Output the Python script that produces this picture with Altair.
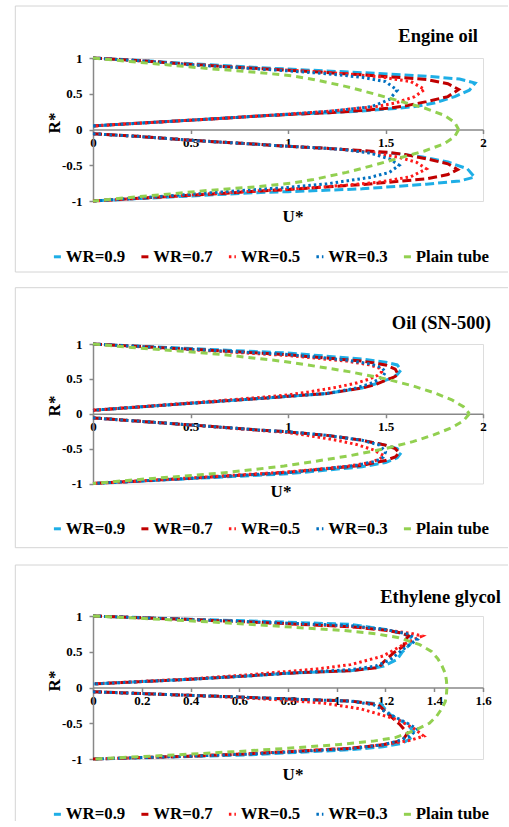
import altair as alt
import pandas as pd

SERIES = ["WR=0.9", "WR=0.7", "WR=0.5", "WR=0.3", "Plain tube"]
COLORS = ["#1EAEE6", "#C00000", "#FF1A1A", "#0070C0", "#92D050"]
DASHES = [[9, 4], [9, 4], [2.5, 3], [2.5, 3], [7, 5]]
WIDTHS = [3, 3, 2.6, 2.6, 2.5]
FONT = "Liberation Serif"

# ---------------- Engine oil ----------------
eo_09_up_u = [0, 0.25, 0.5, 0.86, 1.0, 1.38, 1.71, 1.88, 1.96, 1.93, 1.855, 1.75, 1.65, 1.55, 1.38, 1.21, 1.0, 0.86, 0.5, 0.25, 0]
eo_09_up_r = [1, 0.965, 0.92, 0.865, 0.845, 0.795, 0.745, 0.705, 0.65, 0.55, 0.46, 0.37, 0.32, 0.295, 0.26, 0.235, 0.21, 0.19, 0.13, 0.09, 0.05]
eo_09_lo_u = [0, 0.25, 0.5, 0.86, 1.0, 1.21, 1.38, 1.55, 1.69, 1.82, 1.92, 1.957, 1.88, 1.71, 1.38, 1.0, 0.86, 0.5, 0.25, 0]
eo_09_lo_r = [-0.06, -0.1, -0.15, -0.21, -0.235, -0.265, -0.3, -0.335, -0.385, -0.455, -0.55, -0.665, -0.72, -0.765, -0.83, -0.87, -0.88, -0.93, -0.965, -1]
eo_07_up_u = [0, 0.25, 0.5, 0.86, 1.0, 1.38, 1.71, 1.82, 1.875, 1.82, 1.71, 1.6, 1.52, 1.38, 1.21, 1.0, 0.86, 0.5, 0.25, 0]
eo_07_up_r = [1, 0.96, 0.91, 0.85, 0.83, 0.765, 0.7, 0.64, 0.56, 0.46, 0.39, 0.33, 0.3, 0.265, 0.235, 0.21, 0.19, 0.13, 0.09, 0.05]
eo_07_lo_u = [0, 0.25, 0.5, 0.86, 1.0, 1.21, 1.38, 1.52, 1.6, 1.71, 1.82, 1.87, 1.82, 1.71, 1.38, 1.0, 0.86, 0.5, 0.25, 0]
eo_07_lo_r = [-0.06, -0.1, -0.15, -0.21, -0.235, -0.265, -0.295, -0.32, -0.35, -0.41, -0.48, -0.56, -0.63, -0.69, -0.77, -0.84, -0.86, -0.92, -0.96, -1]
eo_05_up_u = [0, 0.25, 0.5, 0.86, 1.0, 1.2, 1.46, 1.63, 1.70, 1.65, 1.55, 1.45, 1.3, 1.21, 1.0, 0.86, 0.5, 0.25, 0]
eo_05_up_r = [1, 0.96, 0.91, 0.85, 0.83, 0.8, 0.74, 0.67, 0.56, 0.46, 0.37, 0.32, 0.28, 0.255, 0.215, 0.19, 0.13, 0.09, 0.05]
eo_05_lo_u = [0, 0.25, 0.5, 0.86, 1.0, 1.21, 1.3, 1.45, 1.57, 1.66, 1.71, 1.63, 1.46, 1.2, 1.0, 0.86, 0.5, 0.25, 0]
eo_05_lo_r = [-0.06, -0.1, -0.15, -0.21, -0.235, -0.265, -0.285, -0.33, -0.39, -0.46, -0.55, -0.66, -0.74, -0.8, -0.835, -0.855, -0.915, -0.96, -1]
eo_03_up_u = [0, 0.25, 0.5, 0.86, 1.0, 1.2, 1.38, 1.5, 1.56, 1.52, 1.43, 1.3, 1.21, 1.0, 0.86, 0.5, 0.25, 0]
eo_03_up_r = [1, 0.96, 0.905, 0.845, 0.82, 0.78, 0.73, 0.67, 0.55, 0.42, 0.32, 0.28, 0.255, 0.215, 0.19, 0.13, 0.09, 0.05]
eo_03_lo_u = [0, 0.25, 0.5, 0.86, 1.0, 1.21, 1.3, 1.42, 1.52, 1.57, 1.52, 1.42, 1.2, 1.0, 0.86, 0.5, 0.25, 0]
eo_03_lo_r = [-0.06, -0.1, -0.15, -0.21, -0.235, -0.265, -0.285, -0.33, -0.41, -0.5, -0.6, -0.67, -0.76, -0.81, -0.835, -0.905, -0.955, -1]
eo_pt_up_u = [0, 0.19, 0.4, 0.6, 0.84, 1.02, 1.13, 1.3, 1.44, 1.57, 1.7, 1.8, 1.855, 1.875]
eo_pt_up_r = [1, 0.95, 0.9, 0.85, 0.8, 0.75, 0.7, 0.6, 0.5, 0.4, 0.3, 0.2, 0.1, 0]
eo_pt_lo_u = [1.875, 1.855, 1.8, 1.7, 1.57, 1.44, 1.3, 1.13, 1.02, 0.84, 0.6, 0.4, 0.19, 0]
eo_pt_lo_r = [0, -0.1, -0.2, -0.3, -0.4, -0.5, -0.6, -0.7, -0.75, -0.8, -0.85, -0.9, -0.95, -1]

# ---------------- Oil (SN-500) ----------------
sn_09_up_u = [0, 0.5, 1.0, 1.38, 1.5, 1.56, 1.58, 1.56, 1.52, 1.45, 1.38, 1.2, 1.0, 0.86, 0.5, 0]
sn_09_up_r = [1, 0.935, 0.87, 0.785, 0.74, 0.7, 0.63, 0.56, 0.5, 0.43, 0.37, 0.29, 0.25, 0.22, 0.15, 0.05]
sn_09_lo_u = [0, 0.5, 0.86, 1.0, 1.2, 1.38, 1.5, 1.56, 1.58, 1.56, 1.5, 1.38, 1.0, 0.5, 0]
sn_09_lo_r = [-0.06, -0.16, -0.235, -0.26, -0.31, -0.38, -0.45, -0.5, -0.56, -0.63, -0.7, -0.76, -0.86, -0.93, -1]
sn_07_up_u = [0, 0.5, 1.0, 1.38, 1.5, 1.55, 1.565, 1.54, 1.5, 1.45, 1.38, 1.2, 1.0, 0.86, 0.5, 0]
sn_07_up_r = [1, 0.925, 0.845, 0.755, 0.7, 0.64, 0.56, 0.52, 0.48, 0.42, 0.37, 0.29, 0.25, 0.22, 0.15, 0.05]
sn_07_lo_u = [0, 0.5, 0.86, 1.0, 1.2, 1.38, 1.5, 1.55, 1.57, 1.55, 1.5, 1.38, 1.0, 0.5, 0]
sn_07_lo_r = [-0.06, -0.16, -0.235, -0.26, -0.31, -0.38, -0.45, -0.5, -0.56, -0.62, -0.67, -0.74, -0.84, -0.925, -1]
sn_05_up_u = [0, 0.5, 1.0, 1.3, 1.42, 1.47, 1.48, 1.46, 1.42, 1.35, 1.25, 1.1, 1.0, 0.86, 0.5, 0]
sn_05_up_r = [1, 0.92, 0.835, 0.755, 0.7, 0.65, 0.6, 0.55, 0.5, 0.44, 0.38, 0.31, 0.27, 0.235, 0.155, 0.05]
sn_05_lo_u = [0, 0.5, 0.86, 1.0, 1.1, 1.25, 1.35, 1.44, 1.49, 1.47, 1.42, 1.3, 1.0, 0.5, 0]
sn_05_lo_r = [-0.06, -0.16, -0.24, -0.27, -0.31, -0.38, -0.44, -0.52, -0.6, -0.65, -0.7, -0.755, -0.835, -0.92, -1]
sn_03_up_u = [0, 0.5, 1.0, 1.3, 1.43, 1.48, 1.5, 1.49, 1.47, 1.42, 1.35, 1.2, 1.0, 0.86, 0.5, 0]
sn_03_up_r = [1, 0.925, 0.85, 0.77, 0.71, 0.66, 0.6, 0.55, 0.5, 0.43, 0.37, 0.29, 0.25, 0.22, 0.15, 0.05]
sn_03_lo_u = [0, 0.5, 0.86, 1.0, 1.2, 1.38, 1.47, 1.5, 1.49, 1.45, 1.35, 1.0, 0.5, 0]
sn_03_lo_r = [-0.06, -0.16, -0.235, -0.26, -0.31, -0.38, -0.45, -0.55, -0.62, -0.68, -0.74, -0.845, -0.925, -1]
sn_pt_up_u = [0, 0.2, 0.44, 0.66, 0.82, 0.98, 1.1, 1.32, 1.5, 1.64, 1.75, 1.84, 1.9, 1.93]
sn_pt_up_r = [1, 0.95, 0.9, 0.85, 0.8, 0.75, 0.7, 0.6, 0.5, 0.4, 0.3, 0.2, 0.1, 0]
sn_pt_lo_u = [1.93, 1.9, 1.84, 1.75, 1.64, 1.5, 1.32, 1.1, 0.98, 0.82, 0.66, 0.44, 0.2, 0]
sn_pt_lo_r = [0, -0.1, -0.2, -0.3, -0.4, -0.5, -0.6, -0.7, -0.75, -0.8, -0.85, -0.9, -0.95, -1]

# ---------------- Ethylene glycol ----------------
eg_09_up_u = [0, 0.4, 0.648, 1.057, 1.22, 1.29, 1.316, 1.30, 1.27, 1.248, 1.193, 1.16, 1.057, 0.8, 0.648, 0.4, 0]
eg_09_up_r = [1, 0.955, 0.93, 0.884, 0.8, 0.73, 0.674, 0.6, 0.5, 0.394, 0.30, 0.275, 0.235, 0.2, 0.165, 0.115, 0.05]
eg_09_lo_u = [0, 0.4, 0.648, 0.8, 1.057, 1.18, 1.22, 1.29, 1.316, 1.3, 1.27, 1.19, 1.057, 0.648, 0.4, 0]
eg_09_lo_r = [-0.06, -0.11, -0.14, -0.16, -0.19, -0.23, -0.38, -0.52, -0.62, -0.72, -0.78, -0.83, -0.87, -0.94, -0.965, -1]
eg_07_up_u = [0, 0.4, 0.648, 1.057, 1.2, 1.27, 1.295, 1.28, 1.275, 1.234, 1.19, 1.173, 1.057, 0.8, 0.648, 0.4, 0]
eg_07_up_r = [1, 0.95, 0.915, 0.85, 0.8, 0.76, 0.72, 0.66, 0.58, 0.487, 0.35, 0.28, 0.235, 0.2, 0.165, 0.115, 0.05]
eg_07_lo_u = [0, 0.4, 0.648, 0.8, 1.057, 1.17, 1.21, 1.26, 1.29, 1.27, 1.19, 1.057, 0.648, 0.4, 0]
eg_07_lo_r = [-0.06, -0.11, -0.14, -0.16, -0.19, -0.24, -0.37, -0.52, -0.64, -0.74, -0.8, -0.85, -0.925, -0.96, -1]
eg_05_up_u = [0, 0.4, 0.648, 1.057, 1.19, 1.3, 1.35, 1.29, 1.19, 1.057, 0.92, 0.8, 0.648, 0.4, 0]
eg_05_up_r = [1, 0.95, 0.915, 0.855, 0.81, 0.76, 0.72, 0.63, 0.44, 0.32, 0.26, 0.225, 0.18, 0.12, 0.05]
eg_05_lo_u = [0, 0.4, 0.648, 0.8, 0.95, 1.1, 1.25, 1.32, 1.357, 1.3, 1.19, 1.057, 0.648, 0.4, 0]
eg_05_lo_r = [-0.06, -0.11, -0.15, -0.18, -0.22, -0.3, -0.45, -0.58, -0.68, -0.74, -0.8, -0.85, -0.925, -0.96, -1]
eg_03_up_u = [0, 0.4, 0.648, 1.057, 1.2, 1.29, 1.33, 1.27, 1.22, 1.16, 1.057, 0.8, 0.648, 0.4, 0]
eg_03_up_r = [1, 0.95, 0.92, 0.865, 0.81, 0.75, 0.67, 0.53, 0.39, 0.30, 0.25, 0.2, 0.165, 0.115, 0.05]
eg_03_lo_u = [0, 0.4, 0.648, 0.8, 1.057, 1.15, 1.22, 1.29, 1.33, 1.3, 1.25, 1.19, 1.057, 0.648, 0.4, 0]
eg_03_lo_r = [-0.06, -0.11, -0.14, -0.16, -0.19, -0.24, -0.38, -0.5, -0.58, -0.68, -0.75, -0.8, -0.855, -0.93, -0.96, -1]
eg_pt_up_u = [0, 0.3, 0.57, 0.79, 1.02, 1.16, 1.25, 1.34, 1.39, 1.415, 1.432, 1.445, 1.45, 1.452]
eg_pt_up_r = [1, 0.95, 0.9, 0.85, 0.8, 0.75, 0.7, 0.6, 0.5, 0.4, 0.3, 0.2, 0.1, 0]
eg_pt_lo_u = [1.452, 1.45, 1.445, 1.43, 1.41, 1.38, 1.32, 1.24, 1.15, 1.0, 0.8, 0.57, 0.3, 0]
eg_pt_lo_r = [0, -0.1, -0.2, -0.3, -0.4, -0.5, -0.6, -0.7, -0.75, -0.8, -0.85, -0.9, -0.95, -1]

ticks_eo = [0, 0.5, 1, 1.5, 2]
ticks_sn = [0, 0.5, 1, 1.5, 2]
ticks_eg = [0, 0.2, 0.4, 0.6, 0.8, 1, 1.2, 1.4, 1.6]
ticks_r = [-1, -0.5, 0, 0.5, 1]


def curves_df(items):
    rows = []
    for series, half, us, rs in items:
        for i, (u, r) in enumerate(zip(us, rs)):
            rows.append({"series": series, "half": half, "idx": i, "U": u, "R": r})
    return pd.DataFrame(rows)


def text_layer(label, x, y, size, align="center", baseline="middle", angle=0):
    return alt.Chart(pd.DataFrame({"t": [label]})).mark_text(
        font=FONT, fontWeight="bold", fontSize=size, color="black",
        align=align, baseline=baseline, angle=angle,
    ).encode(text="t:N", x=alt.value(x), y=alt.value(y))


def frame_layers(left, right, top, bottom, draw_bottom=True, extent=None):
    d = pd.DataFrame({"k": [0]})
    st = dict(color="#D4D4D4", strokeWidth=1)
    out = [
        alt.Chart(d).mark_rule(**st).encode(x=alt.value(left), x2=alt.value(right), y=alt.value(top)),
        alt.Chart(d).mark_rule(**st).encode(x=alt.value(left), y=alt.value(top), y2=alt.value(bottom)),
    ]
    if draw_bottom:
        out.append(alt.Chart(d).mark_rule(**st).encode(x=alt.value(left), x2=alt.value(right), y=alt.value(bottom)))
    if extent is not None:
        # invisible spacer that only widens the panel's layout bounds
        out.append(alt.Chart(d).mark_rule(color="white", strokeWidth=1, opacity=0).encode(
            x=alt.value(left), y=alt.value(top), y2=alt.value(extent)))
    return out


W = 390
LABEL_EXPR = "'' + datum.value"


def panel(df, xmax, xticks, h, title, title_x, title_y, r_pos, u_pos, legend_y, frame, extent=None):
    legend = alt.Legend(
        title=None, orient="none", legendX=-44, legendY=legend_y, direction="horizontal",
        labelFont=FONT, labelFontWeight="bold", labelFontSize=16.8, labelColor="black",
        symbolType="stroke", symbolSize=49, symbolStrokeWidth=3, columnPadding=8.5, labelOffset=0,
        labelLimit=200,
    )
    lines = alt.Chart(df).mark_line(interpolate="linear").encode(
        x=alt.X("U:Q", scale=alt.Scale(domain=[0, xmax], nice=False, zero=True),
                axis=alt.Axis(values=xticks, offset=-h / 2, title=None, grid=False, labelExpr=LABEL_EXPR,
                              labelFont=FONT, labelFontWeight="bold", labelFontSize=13, labelColor="black",
                              labelFlush=False, labelPadding=3, tickSize=4, tickColor="#888888",
                              domainColor="#888888", domainWidth=1.5, tickWidth=1.5, labelOverlap=False)),
        y=alt.Y("R:Q", scale=alt.Scale(domain=[-1, 1], nice=False),
                axis=alt.Axis(values=ticks_r, title=None, grid=False, labelExpr=LABEL_EXPR,
                              labelFont=FONT, labelFontWeight="bold", labelFontSize=13, labelColor="black",
                              labelPadding=7, tickSize=4, tickColor="#888888", labelFlush=False,
                              domainColor="#888888", domainWidth=1.5, tickWidth=1.5, labelOverlap=False)),
        color=alt.Color("series:N", scale=alt.Scale(domain=SERIES, range=COLORS), legend=legend),
        strokeDash=alt.StrokeDash("series:N", scale=alt.Scale(domain=SERIES, range=DASHES), legend=legend),
        strokeWidth=alt.StrokeWidth("series:N", scale=alt.Scale(domain=SERIES, range=WIDTHS), legend=None),
        detail="half:N",
        order="idx:Q",
    )
    layers = frame_layers(*frame, extent=extent) + [
        text_layer(title, title_x, title_y, 18.5, align="right", baseline="alphabetic"),
        text_layer("R*", r_pos[0], r_pos[1], 17, angle=270),
        text_layer("U*", u_pos[0], u_pos[1], 17),
        lines,
    ]
    return alt.layer(*layers).properties(width=W, height=h)


def halves(prefix, lists):
    items = []
    for s, key in zip(SERIES, ["09", "07", "05", "03", "pt"]):
        items.append((s, "up", lists[f"{prefix}_{key}_up_u"], lists[f"{prefix}_{key}_up_r"]))
        items.append((s, "lo", lists[f"{prefix}_{key}_lo_u"], lists[f"{prefix}_{key}_lo_r"]))
    return items


G = globals()
df_eo = curves_df(halves("eo", G))
df_sn = curves_df(halves("sn", G))
df_eg = curves_df(halves("eg", G))

H1, H2, H3 = 143, 139.5, 143

p1 = panel(df_eo, 2, ticks_eo, H1, "Engine oil", 385, -16, (-38, 65), (200, 159), 190,
           (-77.7, 415, -52, 214, True))
p2 = panel(df_sn, 2, ticks_sn, H2, "Oil (SN-500)", 398, -15, (-38, 62), (188, 148), 176,
           (-77.7, 415, -56.3, 203.7, True), extent=205.7)
p3 = panel(df_eg, 1.6, ticks_eg, H3, "Ethylene glycol", 408, -13.3, (-38, 65), (200, 159), 189.5,
           (-77.7, 415, -51, 205, False))

chart = alt.vconcat(p1, p2, p3, spacing=13).resolve_scale(
    x="independent", y="independent", color="independent",
    strokeDash="independent", strokeWidth="independent",
).resolve_legend(color="independent", strokeDash="independent").properties(
    padding={"left": 14, "top": 5, "right": 0, "bottom": 0}
).configure_view(strokeWidth=0).configure(background="white").configure_axis(
    labelFont=FONT
).configure_legend(labelFont=FONT)

chart.save("out.html", embed_options={"renderer": "svg", "actions": False})
